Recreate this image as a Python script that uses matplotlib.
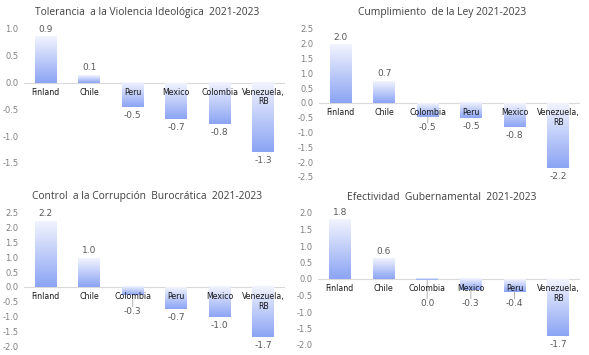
import numpy as np
import matplotlib.pyplot as plt
from matplotlib.colors import LinearSegmentedColormap
from matplotlib import font_manager

# Data
titles = ['Tolerancia  a la Violencia Ideológica  2021-2023',
          'Cumplimiento  de la Ley 2021-2023',
          'Control  a la Corrupción  Burocrática  2021-2023',
          'Efectividad  Gubernamental  2021-2023']

cats_tol = ['Finland', 'Chile', 'Peru', 'Mexico', 'Colombia', 'Venezuela,\nRB']
vals_tol = [0.86, 0.14, -0.46, -0.67, -0.77, -1.29]

cats_ley = ['Finland', 'Chile', 'Colombia', 'Peru', 'Mexico', 'Venezuela,\nRB']
vals_ley = [1.96, 0.74, -0.46, -0.52, -0.80, -2.18]

cats_cor = ['Finland', 'Chile', 'Colombia', 'Peru', 'Mexico', 'Venezuela,\nRB']
vals_cor = [2.23, 0.97, -0.28, -0.74, -1.02, -1.70]

cats_gob = ['Finland', 'Chile', 'Colombia', 'Mexico', 'Peru', 'Venezuela,\nRB']
vals_gob = [1.80, 0.62, -0.04, -0.34, -0.38, -1.72]

ylims = [(-1.5, 1.0), (-2.5, 2.5), (-2.0, 2.5), (-2.0, 2.0)]

# condensed font for category labels if one is available
cat_font = font_manager.FontProperties(family='DejaVu Sans', stretch='condensed', size=6.3)
if 'Condensed' not in font_manager.findfont(cat_font):
    cat_font = font_manager.FontProperties(family='Liberation Sans', size=5.6)

W, H, DPI = 589, 355, 100
fig = plt.figure(figsize=(W / DPI, H / DPI), dpi=DPI)

# axes boxes in pixels: left, right, top, bottom
boxes = [(24, 285, 29, 163), (319, 580, 29, 177), (24, 285, 213, 346), (318, 580, 213, 345)]
title_pos = [(147, 13), (442, 13), (147, 197), (442, 197)]

cmap = LinearSegmentedColormap.from_list('grad', ['#f2f4fe', '#8ba4f4'])
grad = np.linspace(0, 1, 256).reshape(-1, 1)

data = [(cats_tol, vals_tol), (cats_ley, vals_ley), (cats_cor, vals_cor), (cats_gob, vals_gob)]

for k, (cats, vals) in enumerate(data):
    l, r, t, b = boxes[k]
    ax = fig.add_axes([l / W, 1 - b / H, (r - l) / W, (b - t) / H])
    ymin, ymax = ylims[k]
    ppu = (b - t) / (ymax - ymin)  # pixels per unit
    for i, v in enumerate(vals):
        y0, y1 = min(0, v), max(0, v)
        # light at top, blue at bottom
        ax.imshow(grad, extent=[i - 0.25, i + 0.25, y0, y1],
                  origin='upper', cmap=cmap, aspect='auto', zorder=2)
        label = f'{v:.1f}'
        if label == '-0.0':
            label = '0.0'
        if v >= 0:
            ax.annotate(label, (i, v), xytext=(0, 3 * 0.72), textcoords='offset points',
                        ha='center', va='bottom', fontsize=6.5, color='#595959')
        else:
            blen = -v * ppu
            if blen < 15:
                # short bar: label pushed down with a leader line
                gap = 20 - blen
                ax.annotate('', (i, v), xytext=(0, -gap * 0.72), textcoords='offset points',
                            arrowprops=dict(arrowstyle='-', color='#a6a6a6', lw=0.6,
                                            shrinkA=0, shrinkB=0))
            else:
                gap = 4
            ax.annotate(label, (i, v), xytext=(0, -gap * 0.72),
                        textcoords='offset points', ha='center', va='top',
                        fontsize=6.5, color='#595959')
        ax.annotate(cats[i], (i, 0), xytext=(0, -5 * 0.72), textcoords='offset points',
                    ha='center', va='top', color='#1a1a1a',
                    fontproperties=cat_font, linespacing=1.1, zorder=5)
    ax.axhline(0, color='#d9d9d9', lw=0.8, zorder=1)
    ax.set_xlim(-0.5, len(cats) - 0.5)
    ax.set_ylim(ymin, ymax)
    ticks = np.arange(ymin, ymax + 0.01, 0.5)
    ax.set_yticks(ticks)
    ax.set_yticklabels([f'{y:.1f}' for y in ticks])
    ax.tick_params(axis='y', length=0, pad=4, labelsize=6, labelcolor='#808080')
    ax.set_xticks([])
    for s in ax.spines.values():
        s.set_visible(False)
    ax.patch.set_alpha(0)
    tx, ty = title_pos[k]
    fig.text(tx / W, 1 - ty / H, titles[k], ha='center', va='center',
             fontsize=7.4, color='#404040', family='Open Sans')

fig.savefig('out.png', dpi=DPI)
